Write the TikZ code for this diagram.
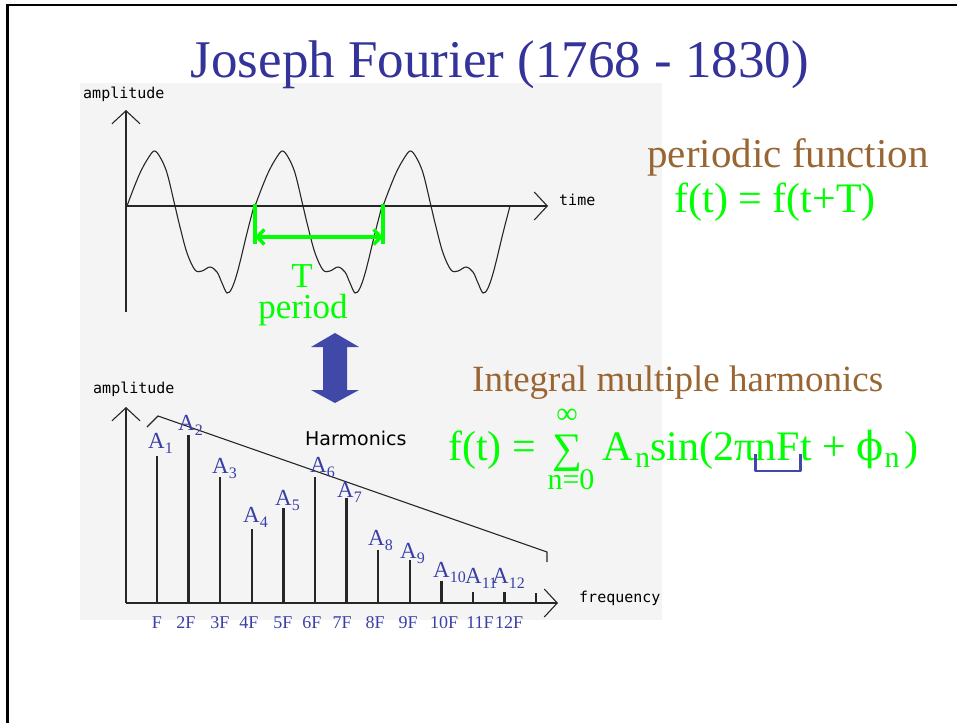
\documentclass[tikz,border=0pt]{standalone}
\usepackage{fontspec}
\setmainfont{Liberation Serif}
\newfontfamily\plotfont{DejaVu Sans Mono}
\newfontfamily\harmfont{DejaVu Sans}
\newfontfamily\phifont{DejaVu Serif}
\usetikzlibrary{arrows.meta}

\definecolor{titleblue}{HTML}{333399}
\definecolor{brownish}{HTML}{996633}
\definecolor{brightgreen}{HTML}{00FF00}
\definecolor{labelblue}{HTML}{3A3FA8}
\definecolor{arrowblue}{HTML}{4049A8}
\definecolor{photogray}{HTML}{F4F4F4}

\newcommand{\px}[1]{\fontsize{#1}{#1}\selectfont}
\newcommand{\Amp}[1]{A\raisebox{-5pt}{\px{16}#1}}

\begin{document}
\begin{tikzpicture}[x=1pt,y=-1pt,
  axis/.style={line width=1.1pt, black!85},
  axtip/.style={-{Straight Barb[length=13pt,width=28pt]}},
  wave/.style={line width=1.1pt, black!85},
  harm/.style={line width=2.4pt, black!85},
  per/.style={line width=3.4pt, brightgreen},
  alab/.style={inner sep=0pt, text=labelblue, font=\px{23}},
  flab/.style={inner sep=0pt, text=labelblue, font=\px{18}},
  plab/.style={inner sep=0pt, font=\plotfont\px{15}},
  eq/.style={inner sep=0pt, text=brightgreen, font=\px{42}},
  eqsub/.style={eq, font=\px{30}}]

\useasboundingbox (0,0) rectangle (957,723);
\fill[photogray] (80,83) rectangle (662,620);
\draw[line width=2.2pt] (957,5) -- (7.5,5) -- (7.5,723);

% ---------------------------
% title
% ---------------------------
\node[inner sep=0pt, text=titleblue, font=\px{53}, anchor=base] (title) at (500,77) {Joseph Fourier (1768 - 1830)};

% ---------------------------
% top: periodic signal
% ---------------------------
\begin{scope}
  \coordinate (O)    at (126,206);
  \coordinate (Ytip) at (126,110);
  \coordinate (Ybot) at (126,312);
  \coordinate (Xtip) at (548,206);

  \draw[axis,axtip] (Ybot) -- (Ytip);
  \draw[axis,axtip] (O) -- (Xtip);

  \foreach \k in {0,1,2}
    \draw[wave, shift={(\k*128,0)}] plot[smooth, tension=0.55] coordinates {
      (127,206) (133,190) (140,173) (147,160) (154,151) (160,157) (167,173)
      (175,206) (180,227) (187,253) (195,270) (202,271) (210,267) (217,272)
      (222,283) (227,293) (232,288) (238,270) (247,233) (254,206)};

  \node[plab, anchor=base west] (amp1) at (83,98) {amplitude};
  \node[plab, anchor=base west] (time) at (559,205) {time};

  % period marker
  \coordinate (P1) at (255,204);
  \coordinate (P2) at (383,204);
  \draw[per] (P1) -- ++(0,40);
  \draw[per] (P2) -- ++(0,40);
  \draw[per, {Straight Barb[length=7pt,width=15pt]}-{Straight Barb[length=7pt,width=15pt]}]
    ([yshift=-33pt]P1) -- ([yshift=-33pt]P2);

  \node[inner sep=0pt, text=brightgreen, font=\px{35}, anchor=base] (T)      at (302,287) {T};
  \node[inner sep=0pt, text=brightgreen, font=\px{35}, anchor=base] (period) at (303,318) {period};
\end{scope}

% ---------------------------
% double arrow
% ---------------------------
\fill[arrowblue] (335,333) -- (359,347) -- (347,347) -- (347,390) -- (359,390) -- (335,403)
  -- (311,390) -- (323,390) -- (323,347) -- (311,347) -- cycle;

% ---------------------------
% bottom: spectrum
% ---------------------------
\begin{scope}
  \coordinate (S)     at (126,603);
  \coordinate (SYtip) at (126,407);
  \coordinate (SXtip) at (558,603);

  \draw[axis,axtip] (S) -- (SYtip);
  \draw[axis,axtip] (S) -- (SXtip);

  \foreach \k/\top in {1/456,2/435,3/477,4/529,5/508,6/477,7/498,8/550,9/560,10/581,11/592,12/592,13/593}
    \draw[harm] ({157+(\k-1)*31.6},603) -- ({157+(\k-1)*31.6},\top);

  % envelope
  \draw[wave] (147,427) -- (158,416) -- (547,552) -- (547,562);

  \foreach \k/\x/\y in {1/148/448,2/178/430,3/212/473,4/243/522,5/275/505,6/310/472,
                        7/337/497,8/368/545,9/400/558,10/433/577,11/465/583,12/492/583}
    \node[alab, anchor=base west] (A\k) at (\x,\y) {\Amp{\k}};

  \foreach \x/\t in {157/F,186/2F,220/3F,249/4F,283/5F,312/6F,342/7F,375/8F,408/9F,444/10F,480/11F,509/12F}
    \node[flab, anchor=base] (F\t) at (\x,628) {\t};

  \node[plab, anchor=base west] (amp2) at (93,393) {amplitude};
  \node[plab, anchor=base west] (freq) at (579,602) {frequency};
  \node[inner sep=0pt, font=\harmfont\px{19}, anchor=base west] (harmonics) at (305,445) {Harmonics};
\end{scope}

% ---------------------------
% right: texts and formulas
% ---------------------------
\node[inner sep=0pt, text=brownish, font=\px{41}, anchor=base] (periodic) at (788,167) {periodic function};
\node[eq, anchor=base] (pereq) at (775,212) {f(t) = f(t+T)};
\node[inner sep=0pt, text=brownish, font=\px{37}, anchor=base west] (integral) at (472,391) {Integral multiple harmonics};

\node[eq, anchor=base west] (ft)    at (448,460) {f(t) =};
\node[eq, anchor=base west] (sig)   at (552,462) {∑};
\node[eqsub, anchor=base]   (inf)   at (567,423) {∞};
\node[eqsub, anchor=base]   (nz)    at (571,489) {n=0};
\node[eq, anchor=base west] (amp)   at (602,460) {A};
\node[eqsub, anchor=base west] (ampn) at (635,467) {n};
\node[eq, anchor=base west] (sinx)  at (650,460) {sin(2π};
\node[eq, anchor=base west] (nF)    at (sinx.base east) {nF};
\node[eq, anchor=base west] (trest) at (nF.base east) {t + {\phifont\px{40}ϕ}};
\node[eqsub, anchor=base west] (phin) at ([yshift=-7pt]trest.base east) {n};
\node[eq, anchor=base west] (close) at ([xshift=4pt,yshift=7pt]phin.base east) {)};

\draw[arrowblue, line width=2.6pt, line join=round]
  ([yshift=6pt]nF.base west) -- ([yshift=-11pt]nF.base west)
  -- ([yshift=-11pt]nF.base east) -- ([yshift=6pt]nF.base east);

\end{tikzpicture}
\end{document}
